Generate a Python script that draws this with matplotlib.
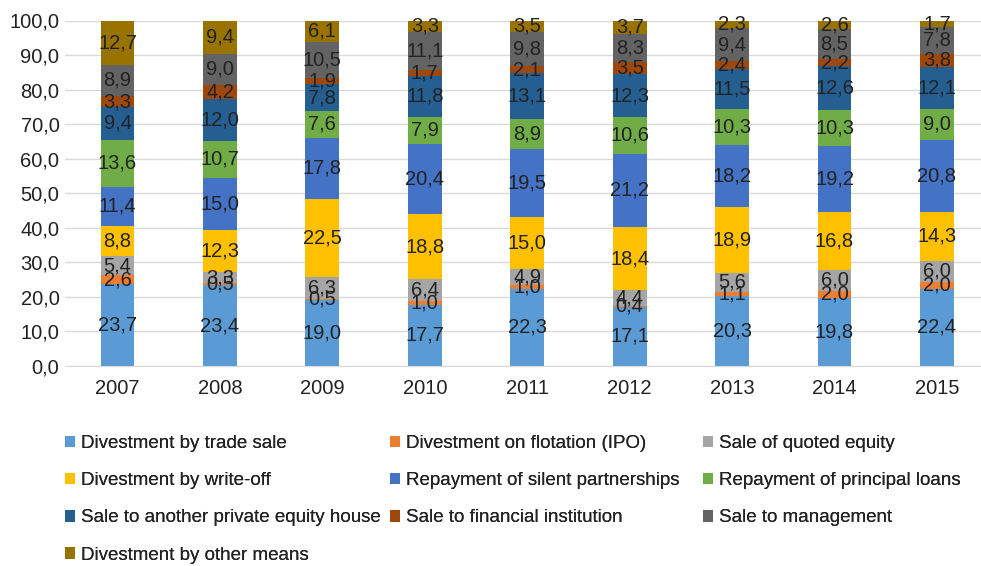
import numpy as np
import matplotlib
matplotlib.use("Agg")
import matplotlib.pyplot as plt

plt.rcParams['font.family'] = ['Liberation Sans', 'DejaVu Sans']

years = ['2007', '2008', '2009', '2010', '2011', '2012', '2013', '2014', '2015']

categories = [
    'Divestment by trade sale',
    'Divestment on flotation (IPO)',
    'Sale of quoted equity',
    'Divestment by write-off',
    'Repayment of silent partnerships',
    'Repayment of principal loans',
    'Sale to another private equity house',
    'Sale to financial institution',
    'Sale to management',
    'Divestment by other means',
]

trade_sale = [23.7, 23.4, 19.0, 17.7, 22.3, 17.1, 20.3, 19.8, 22.4]
ipo = [2.6, 0.5, 0.5, 1.0, 1.0, 0.4, 1.1, 2.0, 2.0]
quoted = [5.4, 3.3, 6.3, 6.4, 4.9, 4.4, 5.6, 6.0, 6.0]
write_off = [8.8, 12.3, 22.5, 18.8, 15.0, 18.4, 18.9, 16.8, 14.3]
silent = [11.4, 15.0, 17.8, 20.4, 19.5, 21.2, 18.2, 19.2, 20.8]
principal = [13.6, 10.7, 7.6, 7.9, 8.9, 10.6, 10.3, 10.3, 9.0]
pe_house = [9.4, 12.0, 7.8, 11.8, 13.1, 12.3, 11.5, 12.6, 12.1]
financial = [3.3, 4.2, 1.9, 1.7, 2.1, 3.5, 2.4, 2.2, 3.8]
management = [8.9, 9.0, 10.5, 11.1, 9.8, 8.3, 9.4, 8.5, 7.8]
other = [12.7, 9.4, 6.1, 3.3, 3.5, 3.7, 2.3, 2.6, 1.7]

series = [trade_sale, ipo, quoted, write_off, silent, principal,
          pe_house, financial, management, other]
colors = ['#5B9BD5', '#ED7D31', '#A5A5A5', '#FFC000', '#4472C4',
          '#70AD47', '#255E91', '#9E480E', '#636363', '#997300']
txt = '#222222'

fig = plt.figure(figsize=(9.81, 5.66), dpi=100)
ax = fig.add_axes([65 / 981, 1 - 366 / 566, 916 / 981, 345.5 / 566])

x = np.arange(len(years))
bottom = np.zeros(len(years))
handles = []
for vals, col, name in zip(series, colors, categories):
    vals = np.array(vals)
    b = ax.bar(x, vals, 0.33, bottom=bottom, color=col, label=name, zorder=2)
    handles.append(b)
    for xi, v, b0 in zip(x, vals, bottom):
        ax.text(xi, b0 + v / 2, f"{v:.1f}".replace('.', ','), ha='center', va='center',
                fontsize=14.5, color=txt, zorder=3)
    bottom += vals

ax.set_xlim(-0.513, 8.43)
ax.set_ylim(0, 100)
yt = np.arange(0, 101, 10)
ax.set_yticks(yt)
ax.set_yticklabels([f"{t:.1f}".replace('.', ',') for t in yt])
ax.set_xticks(x)
ax.set_xticklabels(years)
ax.tick_params(axis='both', length=0, labelsize=14.5, colors=txt)
ax.tick_params(axis='x', pad=9)
ax.tick_params(axis='y', pad=4)
ax.yaxis.grid(True, color='#D9D9D9', lw=1, zorder=0)
for s in ['top', 'right', 'left']:
    ax.spines[s].set_visible(False)
ax.spines['bottom'].set_color('#D9D9D9')

# three legend columns, filled row by row like the reference
col_x = [65, 390, 703]
for c in range(3):
    idx = list(range(c, len(categories), 3))
    leg = fig.legend([handles[i] for i in idx], [categories[i] for i in idx],
                     loc='upper left', bbox_to_anchor=(col_x[c] / 981, 1 - 435 / 566),
                     ncol=1, frameon=False, fontsize=13.5, handlelength=0.55,
                     handleheight=0.55, handletextpad=0.3, labelspacing=1.08,
                     borderpad=0, borderaxespad=0, labelcolor=txt)
    fig.add_artist(leg)

fig.savefig('out.png', dpi=100)
